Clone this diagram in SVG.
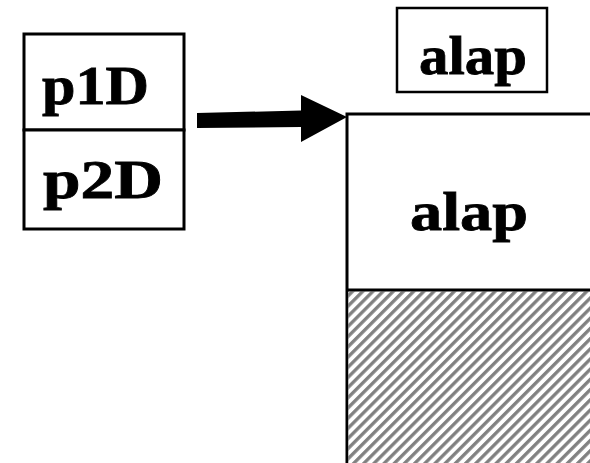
<svg xmlns="http://www.w3.org/2000/svg" width="590" height="463" viewBox="0 0 590 463">
<style>
.box{fill:#fff;stroke:#000;stroke-width:3}
text{font-family:'Liberation Serif','Times New Roman',Times,serif;font-weight:700;font-size:55px;fill:#000;stroke:#000;stroke-width:0.8}
</style>
<defs>
<pattern id="hatch" patternUnits="userSpaceOnUse" width="7.2" height="10" patternTransform="rotate(45)">
<rect width="7.2" height="10" fill="#fff"/>
<line x1="1.7" y1="0" x2="1.7" y2="10" stroke="#808080" stroke-width="3.3"/>
</pattern>
</defs>
<rect width="590" height="463" fill="#fff"/>
<g id="p1D">
<rect class="box" x="24" y="34" width="160" height="96"/>
<text x="42" y="104" textLength="107" lengthAdjust="spacingAndGlyphs">p1D</text>
</g>
<g id="p2D">
<rect class="box" x="24" y="130" width="160" height="99"/>
<text x="43" y="198" textLength="120" lengthAdjust="spacingAndGlyphs">p2D</text>
</g>
<g id="alap-small">
<rect class="box" x="397" y="8" width="150" height="84" style="stroke-width:2.5"/>
<text x="419" y="74" textLength="108" lengthAdjust="spacingAndGlyphs">alap</text>
</g>
<g id="alap-big">
<rect class="box" x="347" y="114" width="260" height="360"/>
<rect x="348.5" y="291.5" width="245" height="175" fill="url(#hatch)"/>
<line x1="347" y1="290" x2="592" y2="290" stroke="#000" stroke-width="3"/>
<text x="410" y="230" textLength="118" lengthAdjust="spacingAndGlyphs">alap</text>
</g>
<g id="connectors">
<polygon points="197,113 301,110.5 301,95 347,117 301,142 301,127 197,128" fill="#000"/>
</g>
</svg>
